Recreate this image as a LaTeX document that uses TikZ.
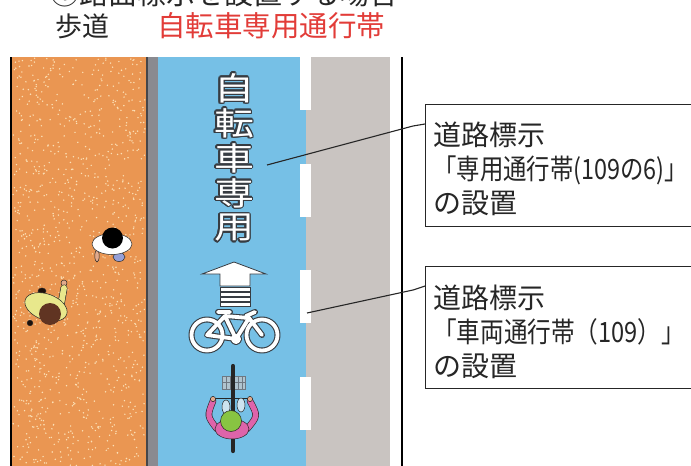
\documentclass[tikz,border=0pt]{standalone}
\usepackage{fontspec}
\setmainfont{Noto Sans CJK JP}
\usetikzlibrary{calc}

\definecolor{walkorange}{RGB}{234,150,82}
\definecolor{speck}{RGB}{252,224,182}
\definecolor{curbgray}{RGB}{138,138,144}
\definecolor{curbline}{RGB}{70,70,74}
\definecolor{lanecyan}{RGB}{118,192,230}
\definecolor{roadgray}{RGB}{201,196,193}
\definecolor{inkdark}{RGB}{38,38,38}
\definecolor{titlered}{RGB}{226,60,56}
\definecolor{markline}{RGB}{55,60,66}
\definecolor{skin}{RGB}{226,170,140}
\definecolor{shirtyellow}{RGB}{232,232,140}
\definecolor{hairbrown}{RGB}{96,52,34}
\definecolor{jacketpink}{RGB}{222,100,170}
\definecolor{capgreen}{RGB}{136,196,66}
\definecolor{pantsblue}{RGB}{150,160,215}
\definecolor{kneepale}{RGB}{205,228,240}
\definecolor{basketgray}{RGB}{110,120,130}

\tikzset{
  boxtext/.style={inner sep=0pt, anchor=base west, text=inkdark,
    font=\fontsize{28pt}{30pt}\selectfont},
  headtext/.style={inner sep=0pt, anchor=base west},
  callout/.style={draw=inkdark, line width=1.4pt, fill=white, anchor=north west,
    minimum width=300pt, minimum height=122pt, inner sep=0pt},
  leader/.style={draw=inkdark, line width=1.1pt},
  lanechar/.style={inner sep=0pt, font=\fontsize{40pt}{40pt}\selectfont},
  figline/.style={draw=inkdark, line width=0.5pt},
  markedge/.style={draw=markline, line width=0.8pt, fill=white},
}

% white road marking character with a dark rim
\newcommand{\lanemark}[3]{%
  \foreach \ang in {0,30,...,330}{
    \node[lanechar, text=markline] at ($(234,#2)+(\ang:1.7pt)$) {\scalebox{1}[0.8]{#3}};
  }
  \node[lanechar, text=white] (#1) at (234,#2) {\scalebox{1}[0.8]{#3}};
}

\begin{document}
\begin{tikzpicture}[x=1pt, y=-1pt]
\useasboundingbox (0,0) rectangle (691,466);
\clip (0,0) rectangle (691,466);
\fill[white] (0,0) rectangle (691,466);

% ---- headings ----
\node[headtext, text=inkdark, font=\fontsize{29pt}{30pt}\selectfont] (case) at (50,4) {①路面標示を設置する場合};
\node[headtext, text=inkdark, font=\fontsize{27pt}{30pt}\selectfont] (walk) at (55,36) {歩道};
\node[headtext, text=titlered, font=\fontsize{28.5pt}{30pt}\selectfont] (lane) at (157,36) {自転車専用通行帯};

% ---- sidewalk ----
\fill[walkorange] (12,57) rectangle (146,466);
\pgfmathsetseed{4242}
\foreach \k in {1,...,1100}{
  \pgfmathsetmacro{\sx}{13+132*rnd}
  \pgfmathsetmacro{\sy}{58+408*rnd}
  \fill[speck] (\sx,\sy) circle (0.8pt);
}
\fill[black] (10,57) rectangle (12,466);
\fill[curbline] (145.5,57) rectangle (147.5,466);
\fill[curbgray] (147.5,57) rectangle (158,466);

% ---- bicycle lane and carriageway ----
\fill[lanecyan] (158,57) rectangle (306,466);
\fill[roadgray] (306,57) rectangle (390,466);
\foreach \t in {57,163.5,270,377}{
  \fill[white] (300,\t) rectangle ++(11,53);
}
\fill[black] (401.3,57) rectangle (403,466);

% ---- lane lettering ----
\lanemark{c1}{88}{自}
\lanemark{c2}{123}{転}
\lanemark{c3}{158}{車}
\lanemark{c4}{193}{専}
\lanemark{c5}{228}{用}

% ---- arrow marking ----
\path[markedge] (234,262) -- (266,274) -- (250,274) -- (250,286) -- (220,286)
  -- (220,274) -- (202,274) -- cycle;
\foreach \t in {287.5,292.5,297.5,302.5}{
  \path[markedge] (220,\t) rectangle (250,\t+3.6);
}

% ---- bicycle pictogram ----
\coordinate (bw1) at (207,335);
\coordinate (bw2) at (262,335);
\coordinate (bb) at (236,339);
\coordinate (st) at (225,316);
\coordinate (ht) at (249,318);
\begin{scope}[line cap=round, line join=round]
\foreach \wid/\col in {6pt/markline, 3.8pt/white}{
  \draw[line width=\wid, draw=\col] (bw1) circle (15.5pt) (bw2) circle (15.5pt);
  \draw[line width=\wid, draw=\col] (bw1) -- (bb) -- (st) -- cycle
    (st) -- (ht) -- (bb) (ht) -- (bw2)
    (218,312) -- (230,312) (246,316) -- (255,312);
  \draw[line width=\wid, draw=\col] (bb) circle (3pt);
}
\end{scope}

% ---- cyclist seen from above ----
\filldraw[fill=kneepale!70!basketgray, draw=basketgray, line width=0.6pt] (222,376) rectangle (245,389);
\foreach \gx in {226,230,...,242}{
  \draw[basketgray, line width=0.5pt] (\gx,376) -- (\gx,389);
}
\draw[basketgray, line width=0.5pt] (222,382.5) -- (245,382.5);
\draw[black!85, line width=4.2pt, line cap=round] (233,366) -- (233,451);
\draw[inkdark, line width=1pt] (214,398) -- (251,398);
\filldraw[fill=kneepale, figline] (226,407) ellipse (4pt and 7pt);
\filldraw[fill=kneepale, figline] (241,405) ellipse (4pt and 7pt);
\draw[inkdark, line width=6.6pt, line cap=round] (213,401) .. controls (207,416) .. (217,429);
\draw[jacketpink, line width=5.4pt, line cap=round] (213,401) .. controls (207,416) .. (217,429);
\draw[inkdark, line width=6.6pt, line cap=round] (250,401) .. controls (258,416) .. (247,429);
\draw[jacketpink, line width=5.4pt, line cap=round] (250,401) .. controls (258,416) .. (247,429);
\filldraw[fill=jacketpink, figline] (232,429) ellipse (17pt and 10pt);
\filldraw[fill=skin, figline] (213,399) circle (2.6pt);
\filldraw[fill=skin, figline] (250,399) circle (2.6pt);
\filldraw[fill=capgreen, figline] (231,421) circle (10.5pt);

% ---- pedestrians ----
% walker near the kerb
\filldraw[fill=skin, figline] (97,256) ellipse (2.2pt and 6pt);
\filldraw[fill=pantsblue, figline] (119,257) ellipse (6pt and 4.5pt);
\filldraw[fill=white, figline] (112,244) ellipse (20pt and 10.5pt);
\fill[black] (112.5,238) circle (10.5pt);
% walker with raised arm
\filldraw[fill=black!70!hairbrown, figline] (42,291) ellipse (4pt and 3pt);
\filldraw[fill=skin, figline] (64,283) circle (3pt);
\draw[inkdark, line width=7pt, line cap=round] (61,305) -- (64,288);
\draw[shirtyellow, line width=5.8pt, line cap=round] (61,305) -- (64,288);
\filldraw[fill=shirtyellow, figline, rotate around={-20:(46,307)}] (46,307) ellipse (22pt and 13pt);
\filldraw[fill=black!70!hairbrown, figline] (30,323) circle (2.8pt);
\fill[hairbrown] (50,314) circle (11pt);

% ---- callouts ----
\node[callout] (box1) at (425,104) {};
\node[callout] (box2) at (425,266) {};

\node[boxtext] (t11) at (433,145) {道路標示};
\node[boxtext] (t12) at (433,179) {\resizebox{255pt}{\height}{「専用通行帯(109の6)」}};
\node[boxtext] (t13) at (433,213) {の設置};

\node[boxtext] (t21) at (433,308) {道路標示};
\node[boxtext] (t22) at (433,342) {\resizebox{252pt}{\height}{「車両通行帯（109）」}};
\node[boxtext] (t23) at (433,376) {の設置};

% ---- leader lines ----
\coordinate (m1) at (267,165);
\coordinate (k1) at (413,126);
\coordinate (e1) at ($(box1.north west)+(0,20)$);
\draw[leader] (m1) -- (k1) -- (e1);
\coordinate (m2) at (307,313);
\coordinate (k2) at (413,290);
\coordinate (e2) at ($(box2.north west)+(0,20)$);
\draw[leader] (m2) -- (k2) -- (e2);
\end{tikzpicture}
\end{document}
